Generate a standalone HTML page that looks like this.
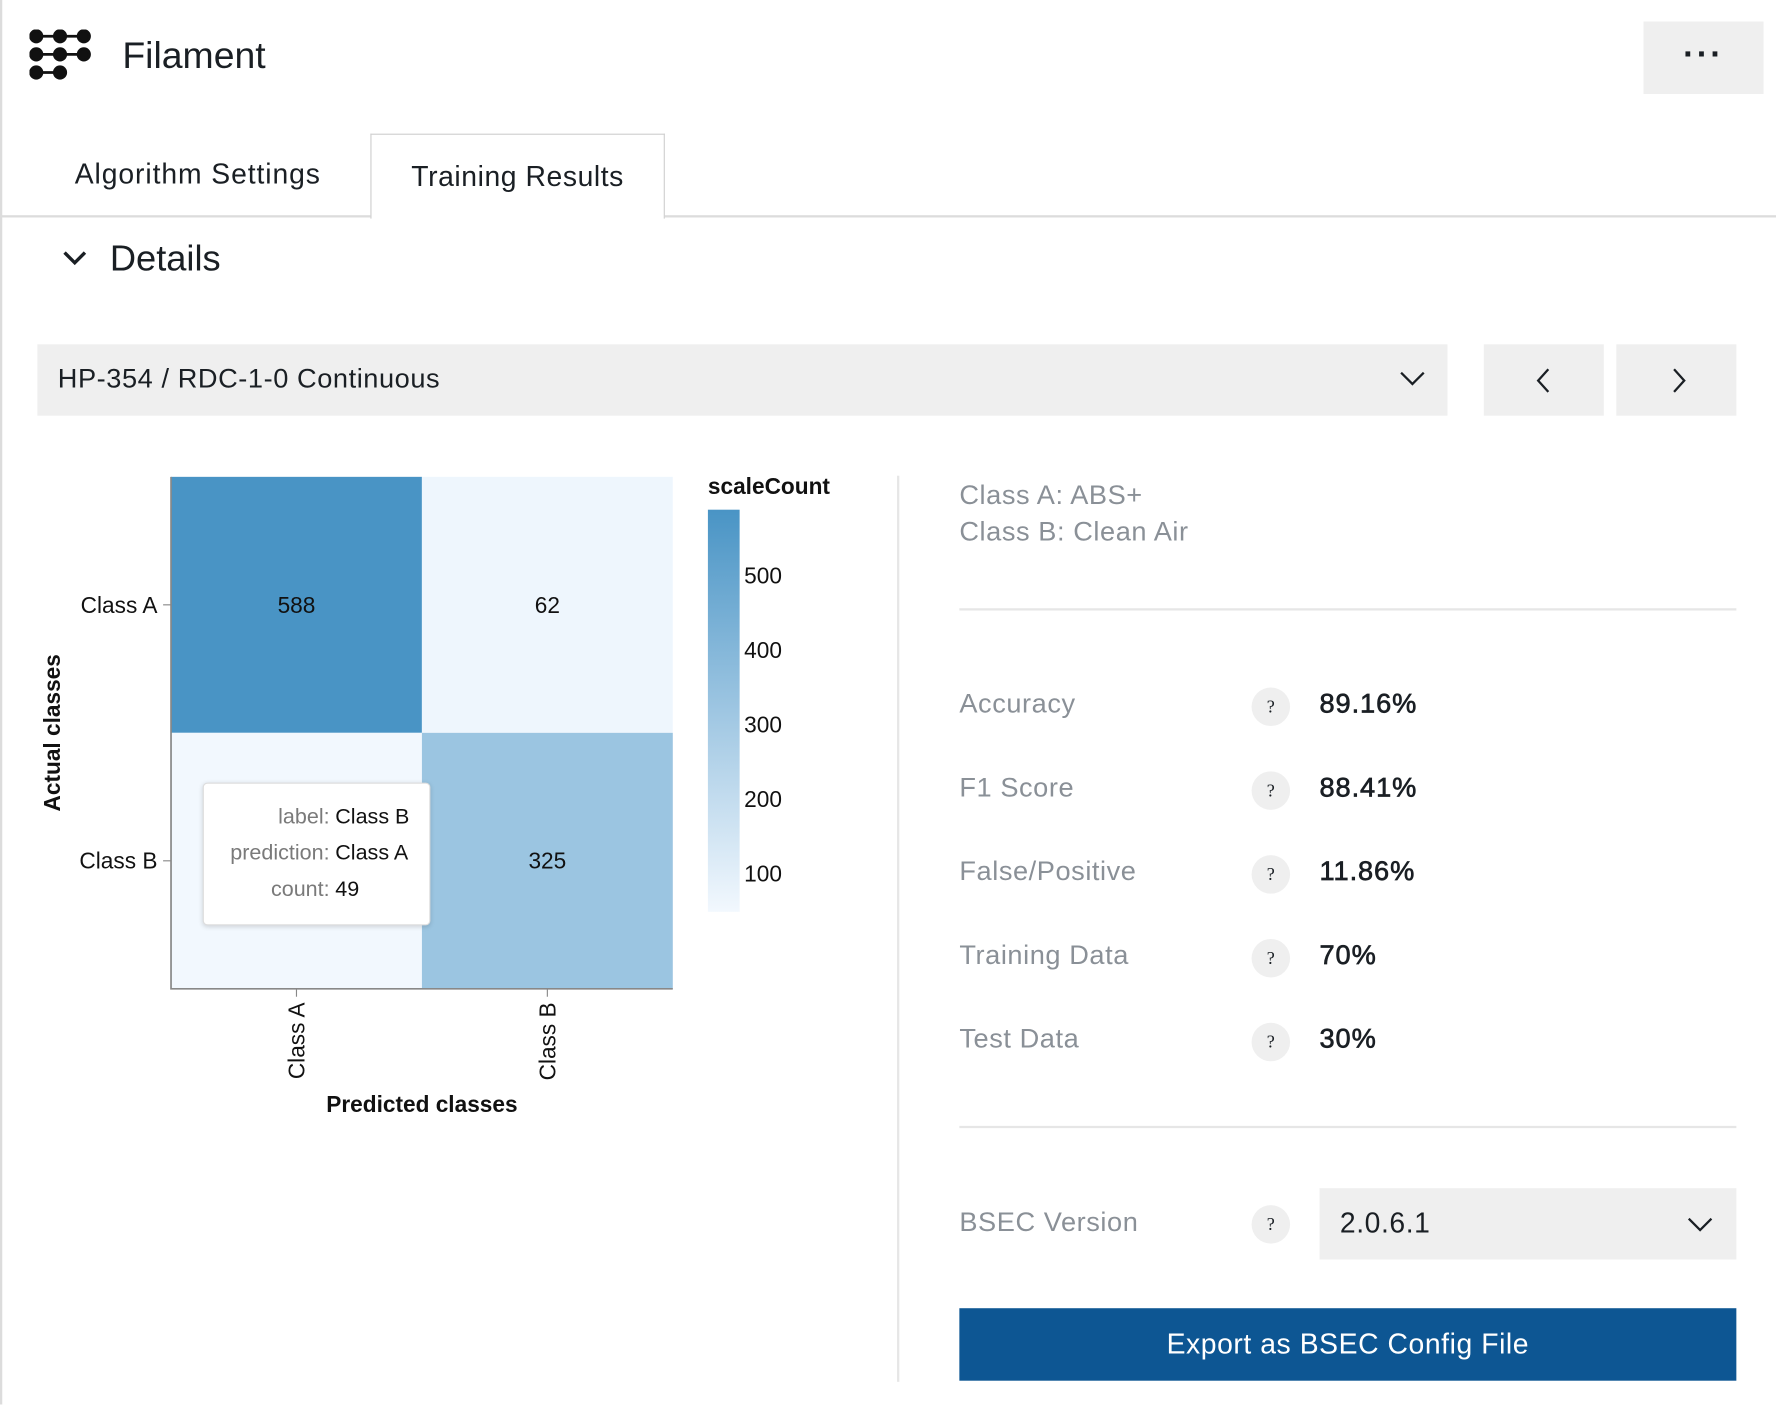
<!DOCTYPE html>
<html><head><meta charset="utf-8">
<style>
html,body{margin:0;padding:0;background:#fff;overflow:hidden;width:1776px;height:1404px}
#root{position:absolute;left:0;top:0;width:1568px;height:1240px;transform:scale(1.13265);transform-origin:0 0;font-family:"Liberation Sans",sans-serif;color:#1a1f24}
.a{position:absolute}
.lbl{color:#8a9097;font-size:24px;letter-spacing:.5px}
.val{color:#1a1f24;font-size:24px;font-weight:normal;letter-spacing:.8px;-webkit-text-stroke:0.6px #1a1f24}
.q{width:34px;height:34px;border-radius:50%;background:#efefef;font-family:"Liberation Serif",serif;font-size:16px;text-align:center;line-height:36px}
</style></head><body>
<div id="root">
<div class="a" style="left:0;top:0;width:2px;height:1240px;background:#dcdcdc"></div>
<svg class="a" style="left:26px;top:26px" width="58" height="48">
<g fill="#111" stroke="#111" stroke-width="2.5"><line x1="6" y1="6" x2="48" y2="6"/><line x1="6" y1="22" x2="48" y2="22"/><line x1="6" y1="38" x2="27" y2="38"/>
<circle cx="6" cy="6" r="5"/><circle cx="27" cy="6" r="5"/><circle cx="48" cy="6" r="5"/><circle cx="6" cy="22" r="5"/><circle cx="27" cy="22" r="5"/><circle cx="48" cy="22" r="5"/><circle cx="6" cy="38" r="5"/><circle cx="27" cy="38" r="5"/></g></svg>
<div class="a" style="left:108px;top:30px;font-size:33px">Filament</div>
<div class="a" style="left:1451px;top:19px;width:106px;height:64px;background:#efefef;text-align:center;line-height:60px;font-size:30px;font-weight:bold;letter-spacing:2px">···</div>
<div class="a" style="left:0;top:190px;width:1568px;height:2px;background:#dcdcdc"></div>
<div class="a" style="left:66px;top:140px;font-size:25px;letter-spacing:.8px">Algorithm Settings</div>
<div class="a" style="left:327px;top:118px;width:258px;height:74px;border:1px solid #cfcfcf;border-bottom:none;background:#fff;font-size:25px;letter-spacing:.5px;text-align:center;line-height:74px">Training Results</div>
<svg class="a" style="left:54px;top:218px" width="24" height="20"><polyline points="3,5 12,14 21,5" fill="none" stroke="#1a1f24" stroke-width="3"/></svg>
<div class="a" style="left:97px;top:210px;font-size:32px">Details</div>
<div class="a" style="left:33px;top:304px;width:1245px;height:63px;background:#efefef">
<div class="a" style="left:18px;top:17px;font-size:24px;letter-spacing:.5px">HP-354 / RDC-1-0 Continuous</div>
<svg class="a" style="left:1202px;top:22px" width="24" height="16"><polyline points="2,3 12,13 22,3" fill="none" stroke="#1a1f24" stroke-width="2"/></svg></div>
<div class="a" style="left:1310px;top:304px;width:106px;height:63px;background:#efefef"><svg class="a" style="left:46px;top:20px" width="14" height="24"><polyline points="11,2 2,12 11,22" fill="none" stroke="#1a1f24" stroke-width="2"/></svg></div>
<div class="a" style="left:1427px;top:304px;width:106px;height:63px;background:#efefef"><svg class="a" style="left:48px;top:20px" width="14" height="24"><polyline points="3,2 12,12 3,22" fill="none" stroke="#1a1f24" stroke-width="2"/></svg></div>

<svg id="chart" class="a" style="left:0;top:400px" width="780" height="620"></svg>

<div class="a" style="left:179px;top:691px;width:199px;height:124px;background:#fff;border:1px solid #ddd;border-radius:4px;box-shadow:0 1px 4px rgba(0,0,0,.15);font-size:19px;line-height:32px">
<div class="a" style="right:88px;top:14px;text-align:right;color:#7a7a7a">label:<br>prediction:<br>count:</div>
<div class="a" style="left:116px;top:14px;color:#111">Class B<br>Class A<br>49</div></div>

<div class="a" style="left:792px;top:420px;width:2px;height:800px;background:#e6e6e6"></div>
<div class="a lbl" style="left:847px;top:422px;line-height:32px">Class A: ABS+<br>Class B: Clean Air</div>
<div class="a" style="left:847px;top:537px;width:686px;height:2px;background:#e6e6e6"></div>
<div class="a" style="left:847px;top:994px;width:686px;height:2px;background:#e6e6e6"></div>
<div class="a lbl" style="left:847px;top:1066px">BSEC Version</div>
<div class="a q" style="left:1105px;top:1064px">?</div>
<div class="a" style="left:1165px;top:1049px;width:368px;height:63px;background:#efefef">
<div class="a" style="left:18px;top:17px;font-size:25px;letter-spacing:.5px">2.0.6.1</div>
<svg class="a" style="left:324px;top:24px" width="24" height="16"><polyline points="2,3 12,13 22,3" fill="none" stroke="#1a1f24" stroke-width="2"/></svg></div>
<div class="a" style="left:847px;top:1155px;width:686px;height:64px;background:#0d5693;color:#fff;font-size:25px;text-align:center;line-height:64px;letter-spacing:.5px">Export as BSEC Config File</div>
</div>
<script>
const classes=["Class A","Class B"];
const actual=["Class A","Class A","Class B","Class B"];
const predicted=["Class A","Class B","Class A","Class B"];
const counts=[588,62,49,325];
const legendTicks=[100,200,300,400,500];
const metricNames=["Accuracy","F1 Score","False/Positive","Training Data","Test Data"];
const metricValues=["89.16%","88.41%","11.86%","70%","30%"];

const NS="http://www.w3.org/2000/svg";
const svg=document.getElementById('chart');
function mk(t,a,txt){const e=document.createElementNS(NS,t);for(const k in a)e.setAttribute(k,a[k]);if(txt!=null)e.textContent=txt;svg.appendChild(e);return e;}
const X0=151,X1=594,Y0=21,Y1=473;
const bw=(X1-X0)/classes.length,bh=(Y1-Y0)/classes.length;
const xPos=c=>X0+classes.indexOf(c)*bw;
const yPos=c=>Y0+classes.indexOf(c)*bh;
const vMin=49,vMax=588;
function color(v){const t=Math.max(0,Math.min(1,(v-vMin)/(vMax-vMin)));
 const a=[242,248,254],b=[73,148,197];return `rgb(${a.map((x,i)=>Math.round(x+(b[i]-x)*t)).join(',')})`;}
for(let i=0;i<counts.length;i++){
 const r=mk('rect',{x:xPos(predicted[i]),y:yPos(actual[i]),width:bw,height:bh,fill:color(counts[i])});
 
 
 const t=mk('text',{x:xPos(predicted[i])+bw/2,y:yPos(actual[i])+bh/2+7,'text-anchor':'middle','font-size':20,fill:'#111'},counts[i]);
 
 
}
mk('path',{d:`M${X0},${Y0}V${Y1}H${X1}`,fill:'none',stroke:'#888','stroke-width':1.5});
classes.forEach(c=>{
 const y=yPos(c)+bh/2;
 mk('line',{x1:X0-7,x2:X0,y1:y,y2:y,stroke:'#888'});
 const t=mk('text',{x:X0-12,y:y+7,'text-anchor':'end','font-size':20,fill:'#111'},c);
 
 
 const x=xPos(c)+bw/2;
 mk('line',{x1:x,x2:x,y1:Y1,y2:Y1+7,stroke:'#888'});
 const u=mk('text',{x:x+7,y:Y1+12,'text-anchor':'end','font-size':20,fill:'#111',transform:`rotate(-90 ${x+7} ${Y1+12})`},c);
 
 
});
const xt=mk('text',{x:(X0+X1)/2,y:582,'text-anchor':'middle','font-size':20,'font-weight':'bold',fill:'#111'},'Predicted classes');

const yt=mk('text',{x:53,y:(Y0+Y1)/2,'text-anchor':'middle','font-size':20,'font-weight':'bold',fill:'#111',transform:`rotate(-90 53 ${(Y0+Y1)/2})`},'Actual classes');

const LY0=50,LY1=405;
const ly=v=>LY1-(v-vMin)/(vMax-vMin)*(LY1-LY0);
const defs=mk('defs',{});
const g=document.createElementNS(NS,'linearGradient');g.setAttribute('id','lg');g.setAttribute('x1','0');g.setAttribute('y1','1');g.setAttribute('x2','0');g.setAttribute('y2','0');defs.appendChild(g);
[0,0.5,1].forEach(o=>{const s=document.createElementNS(NS,'stop');s.setAttribute('offset',o);s.setAttribute('stop-color',color(vMin+o*(vMax-vMin)));g.appendChild(s);});
const lr=mk('rect',{x:625,y:LY0,width:28,height:LY1-LY0,fill:'url(#lg)'});

const lt=mk('text',{x:625,y:36,'font-size':20,'font-weight':'bold',fill:'#111'},'scaleCount');

legendTicks.forEach(v=>{const t=mk('text',{x:657,y:ly(v)+7,'font-size':20,fill:'#111'},v);
 });
const root=document.getElementById('root');
metricNames.forEach((n,i)=>{const y=608+i*74;
 const a=document.createElement('div');a.className='a lbl';a.style.cssText=`left:847px;top:${y}px`;a.textContent=n;
 root.appendChild(a);
 const q=document.createElement('div');q.className='a q';q.style.cssText=`left:1105px;top:${y-1}px`;q.textContent='?';
 root.appendChild(q);
 const v=document.createElement('div');v.className='a val';v.style.cssText=`left:1165px;top:${y}px`;v.textContent=metricValues[i];
 root.appendChild(v);
});
</script>
</body></html>
